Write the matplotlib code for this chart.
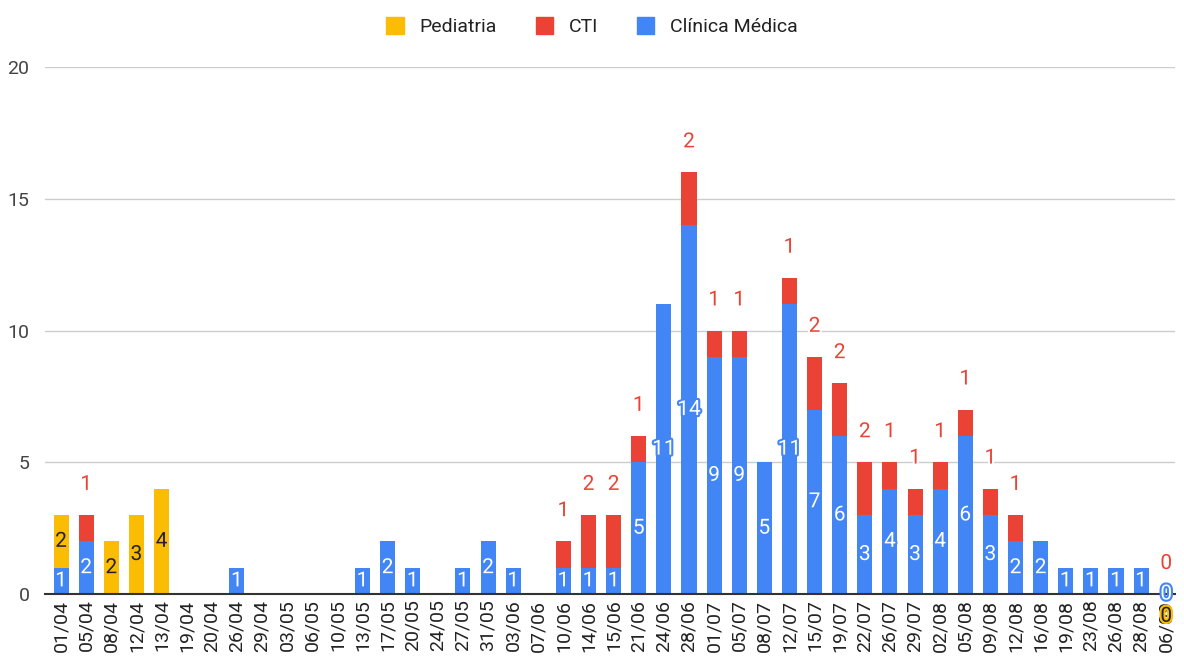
import numpy as np
import matplotlib
matplotlib.use('Agg')
from matplotlib import pyplot as plt
from matplotlib.patches import Patch
import matplotlib.patheffects as pe

plt.rcParams['font.family'] = ['Roboto', 'DejaVu Sans']

datas = ['01/04', '05/04', '08/04', '12/04', '13/04', '19/04', '20/04', '26/04', '29/04',
         '03/05', '06/05', '10/05', '13/05', '17/05', '20/05', '24/05', '27/05', '31/05',
         '03/06', '07/06', '10/06', '14/06', '15/06', '21/06', '24/06', '28/06',
         '01/07', '05/07', '08/07', '12/07', '15/07', '19/07', '22/07', '26/07', '29/07',
         '02/08', '05/08', '09/08', '12/08', '16/08', '19/08', '23/08', '26/08', '28/08',
         '06/09']

# None = celula vazia, 0 = zero de verdade
clinica_medica = [1, 2, None, None, None, None, None, 1, None,
                  None, None, None, 1, 2, 1, None, 1, 2,
                  1, None, 1, 1, 1, 5, 11, 14,
                  9, 9, 5, 11, 7, 6, 3, 4, 3,
                  4, 6, 3, 2, 2, 1, 1, 1, 1,
                  0]
cti = [None, 1, None, None, None, None, None, None, None,
       None, None, None, None, None, None, None, None, None,
       None, None, 1, 2, 2, 1, None, 2,
       1, 1, None, 1, 2, 2, 2, 1, 1,
       1, 1, 1, 1, None, None, None, None, None,
       0]
pediatria = [2, None, 2, 3, 4, None, None, None, None,
             None, None, None, None, None, None, None, None, None,
             None, None, None, None, None, None, None, None,
             None, None, None, None, None, None, None, None, None,
             None, None, None, None, None, None, None, None, None,
             0]

azul = '#4285f4'
vermelho = '#ea4335'
amarelo = '#fbbc04'

def to_num(vals):
    return np.array([0 if v is None else v for v in vals], dtype=float)

cm = to_num(clinica_medica)
ct = to_num(cti)
pd_ = to_num(pediatria)
x = np.arange(len(datas))

fig = plt.figure(figsize=(11.84, 6.59), dpi=100)
ax = fig.add_axes([0.0378, 0.0986, 0.9546, 0.7997])

w = 0.6
ax.bar(x, cm, width=w, color=azul, zorder=3)
ax.bar(x, ct, width=w, bottom=cm, color=vermelho, zorder=3)
ax.bar(x, pd_, width=w, bottom=cm + ct, color=amarelo, zorder=3)

# rotulos
for i in range(len(datas)):
    if clinica_medica[i] is not None:
        ax.text(x[i], cm[i] / 2, str(clinica_medica[i]), ha='center', va='center',
                color='white', fontsize=15, zorder=5,
                path_effects=[pe.withStroke(linewidth=3, foreground=azul)])
    if pediatria[i] is not None:
        yy = cm[i] + ct[i] + pd_[i] / 2
        off = -16 if pediatria[i] == 0 else 0
        ax.annotate(str(pediatria[i]), (x[i], yy), xytext=(0, off), textcoords='offset points',
                    ha='center', va='center', color='#222222', fontsize=15, zorder=5,
                    annotation_clip=False,
                    path_effects=[pe.withStroke(linewidth=3, foreground=amarelo)])
    if cti[i] is not None:
        topo = cm[i] + ct[i] + pd_[i]
        ax.annotate(str(cti[i]), (x[i], topo), xytext=(0, 22), textcoords='offset points',
                    ha='center', va='center', color=vermelho, fontsize=15, zorder=5,
                    path_effects=[pe.withStroke(linewidth=3, foreground='white')])

ax.set_xlim(-0.65, len(datas) - 0.65)
ax.set_ylim(0, 20)
ax.set_yticks([0, 5, 10, 15, 20])
ax.set_xticks(x)
ax.set_xticklabels(datas, rotation=90, fontsize=14, color='#222222')
ax.tick_params(axis='y', labelsize=14, labelcolor='#444444', length=0, pad=11)
ax.tick_params(axis='x', length=0, pad=4)
ax.grid(axis='y', color='#cccccc', linewidth=1, zorder=0)
for s in ['top', 'right', 'left']:
    ax.spines[s].set_visible(False)
ax.spines['bottom'].set_color('#333333')
ax.spines['bottom'].set_linewidth(1.5)
ax.spines['bottom'].set_zorder(4)

handles = [Patch(color=amarelo, label='Pediatria'),
           Patch(color=vermelho, label='CTI'),
           Patch(color=azul, label='Clínica Médica')]
fig.legend(handles=handles, loc='upper center', bbox_to_anchor=(0.5, 1.0), ncol=3,
           frameon=False, fontsize=14, handlelength=0.9, handleheight=0.9,
           columnspacing=2.0, handletextpad=0.8, labelcolor='#222222')

plt.savefig('out.png', dpi=100)
plt.close()
